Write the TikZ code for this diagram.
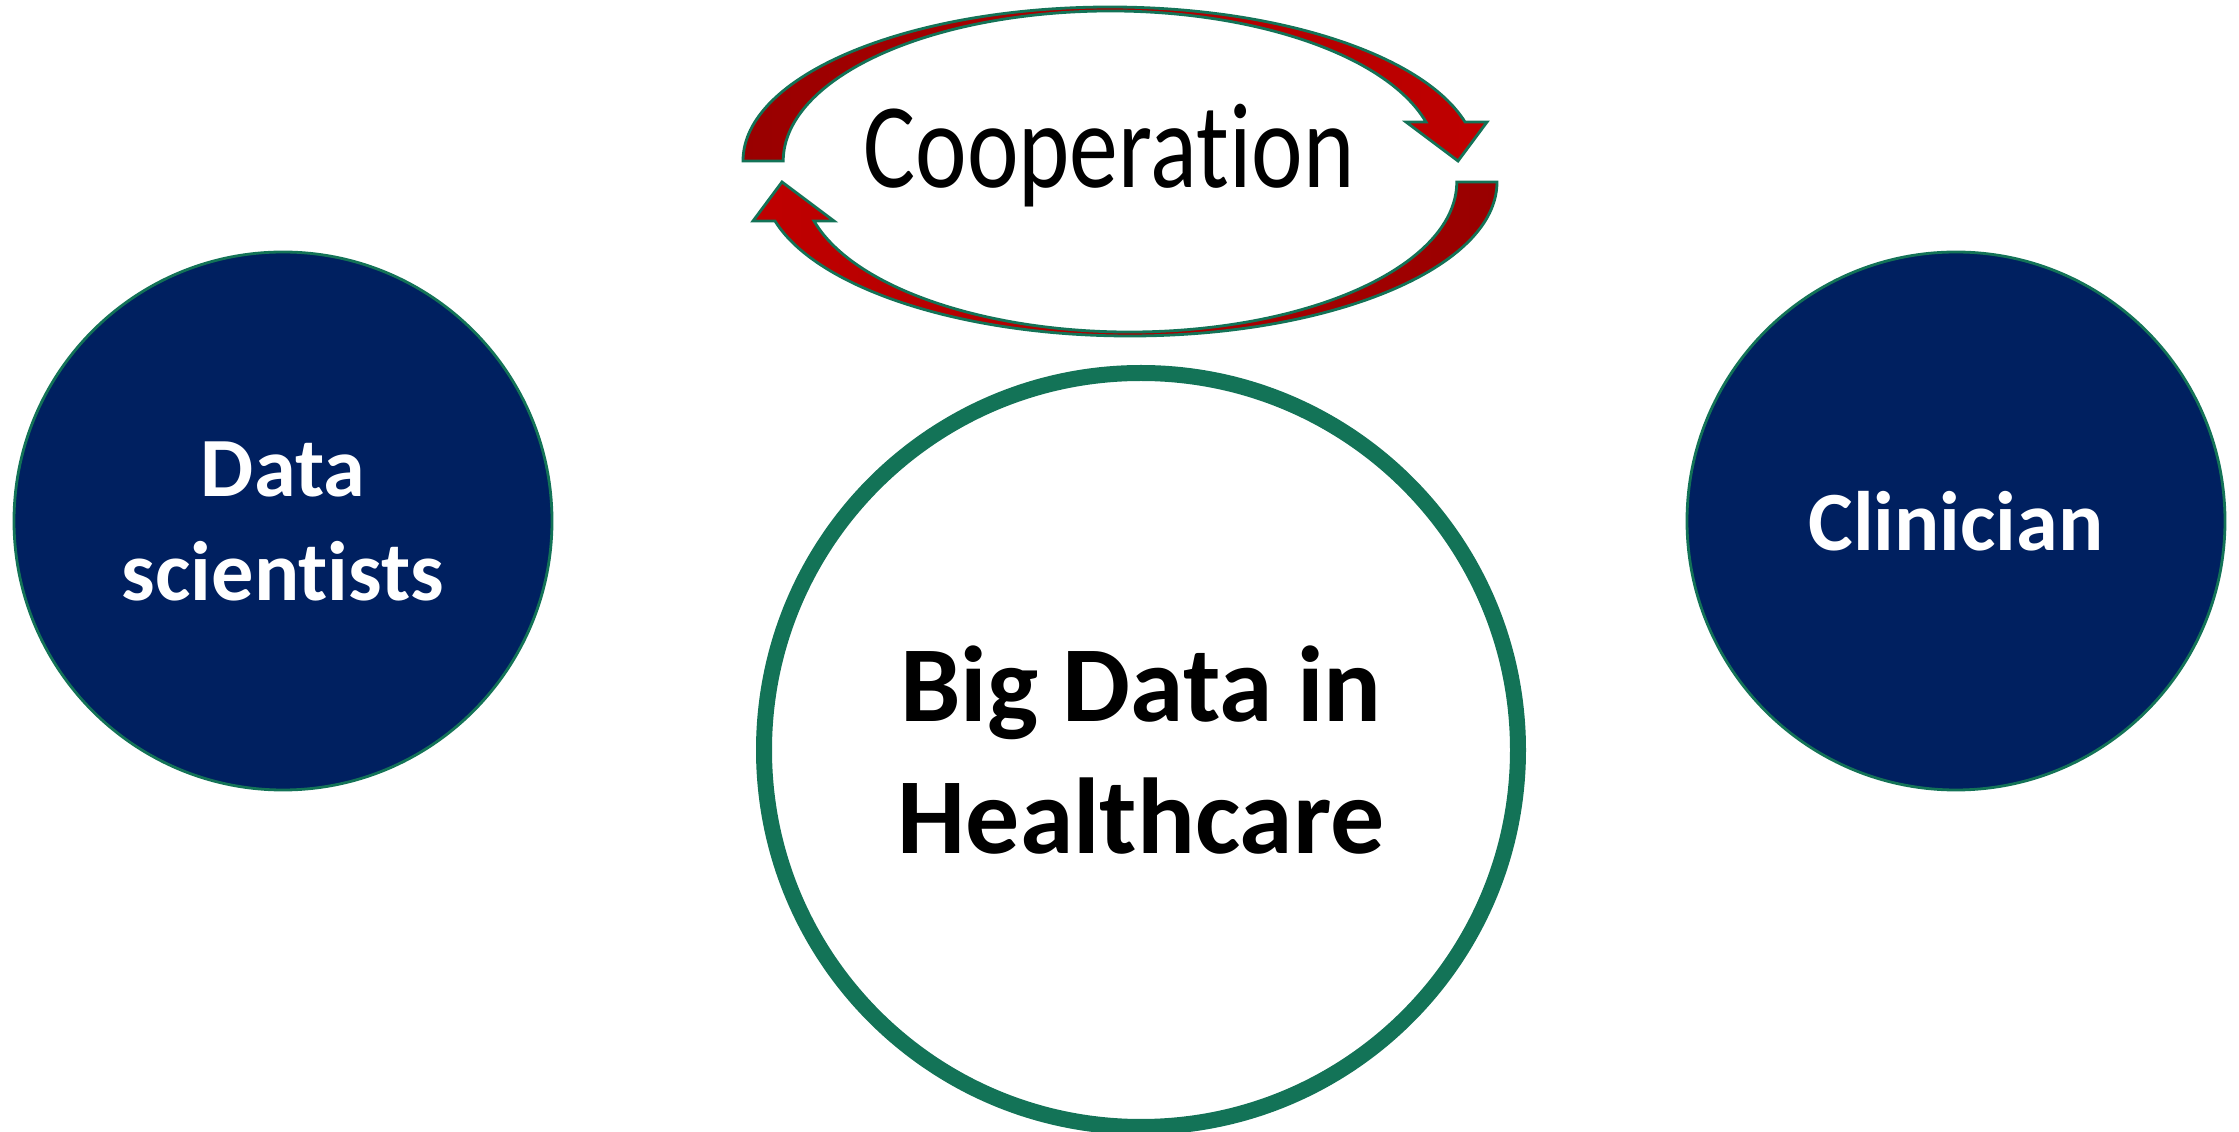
\documentclass[tikz,border=0pt]{standalone}
\usepackage{fontspec}
\setmainfont{Carlito}[Ligatures={TeX,NoCommon}]
\usetikzlibrary{positioning}
\definecolor{rolenavy}{HTML}{002060}
\definecolor{rimgreen}{HTML}{137357}
\definecolor{arrowdark}{HTML}{990000}
\definecolor{arrowred}{HTML}{C00000}

\tikzset{
  role/.style={circle, draw=rimgreen, line width=0.8pt, fill=rolenavy, text=white,
    minimum size=5.38cm, align=center, font=\bfseries\fontsize{24}{29.6}\selectfont},
  loop arrow/.style={draw=rimgreen, line width=0.8pt},
}

\begin{document}
\begin{tikzpicture}
  \useasboundingbox (0,0) rectangle (22.39,11.31);
  % the two roles and the topic
  \node[role] (sci) at (2.83,6.10) {Data\\scientists};
  \node[role] (clin) at (19.56,6.10) {Clinician};
  \node[circle, draw=rimgreen, line width=0.16cm, minimum size=7.54cm, align=center,
    font=\bfseries\fontsize{30.7}{37.8}\selectfont] (bigdata) at (11.41,3.81) {Big Data in\\Healthcare};
  % cooperation loop, upper arrow goes right, lower goes left
  \path[loop arrow, left color=arrowdark, right color=arrowred]
    (7.43,9.70) arc[start angle=180, end angle=14.7, x radius=3.67, y radius=1.54]
    -- (14.87,10.09) -- (14.58,9.70) -- (14.06,10.09) -- (14.26,10.09)
    arc[start angle=15.07, end angle=180, x radius=3.27, y radius=1.50] -- cycle;
  \path[loop arrow, left color=arrowred, right color=arrowdark]
    (14.97,9.49) arc[start angle=0, end angle=-165.3, x radius=3.67, y radius=1.54]
    -- (7.53,9.10) -- (7.82,9.49) -- (8.34,9.10) -- (8.14,9.10)
    arc[start angle=-164.93, end angle=0, x radius=3.27, y radius=1.50] -- cycle;
  \node[font=\fontsize{27.8}{33}\selectfont, yscale=1.24, anchor=base] (coop) at (11.09,9.43) {Cooperation};
\end{tikzpicture}
\end{document}
